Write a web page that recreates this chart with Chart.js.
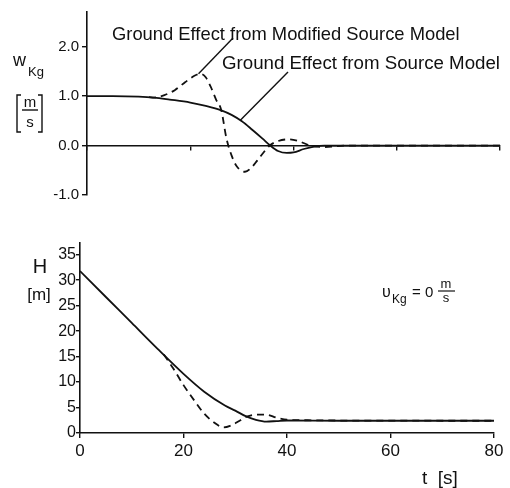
<!DOCTYPE html>
<html>
<head>
<meta charset="utf-8">
<script src="https://cdn.jsdelivr.net/npm/chart.js@4.4.1/dist/chart.umd.min.js"></script>
<style>
  html, body { margin: 0; padding: 0; background: #fff; }
  #wrap { position: relative; width: 510px; height: 488px; }
  #top-box { position: absolute; left: 0; top: 0; width: 510px; height: 215px; }
  #bot-box { position: absolute; left: 0; top: 215px; width: 510px; height: 273px; }
</style>
</head>
<body>
<div id="wrap">
  <div id="top-box"><canvas id="wkg-chart"></canvas></div>
  <div id="bot-box"><canvas id="height-chart"></canvas></div>
</div>
<script>
// w_Kg - vertical wind from ground effect [m/s]
var wTimeSrc = [0, 5, 10, 13, 16, 20, 23, 26, 28, 30, 32, 34, 35.5, 37, 38.7, 40, 42, 44, 46, 50, 60, 70, 80];
var wSrc     = [1.0, 1.0, 0.99, 0.97, 0.93, 0.87, 0.80, 0.71, 0.62, 0.49, 0.32, 0.14, 0, -0.11, -0.15, -0.14, -0.07, -0.02, 0, 0, 0, 0, 0];
var wTimeMod = [12, 13, 15, 17, 19, 21, 22, 23, 24, 25, 26, 27, 28, 29, 30.6, 32, 33, 35.4, 37, 39, 41, 43.2, 46, 50, 60, 70, 80];
var wMod     = [0.98, 0.97, 1.02, 1.12, 1.28, 1.42, 1.45, 1.38, 1.18, 0.93, 0.72, 0.15, -0.2, -0.42, -0.53, -0.43, -0.3, 0, 0.09, 0.125, 0.09, 0, -0.03, 0, 0, 0, 0];

// H - height [m]
var hTimeSrc = [0, 5, 10, 15, 20, 24, 28, 30, 32, 34, 36, 38, 40, 50, 60, 70, 80];
var hSrc     = [31.8, 26.7, 21.6, 16.5, 11.6, 8.1, 5.4, 4.4, 3.3, 2.6, 2.25, 2.35, 2.45, 2.4, 2.4, 2.4, 2.4];
var hTimeMod = [16.2, 18, 20, 22, 24, 26, 27.7, 29, 31, 32.2, 34, 36, 38, 40, 44, 50, 80];
var hMod     = [15.4, 12.7, 9.4, 6.5, 3.8, 2.0, 1.1, 1.4, 2.5, 3.2, 3.6, 3.6, 3.0, 2.6, 2.5, 2.45, 2.4];

// axis ticks
var tTicks = [0, 20, 40, 60, 80];
var wTicks = [-1, 0, 1, 2];
var hTicks = [0, 5, 10, 15, 20, 25, 30, 35];

var modLabel = 'Ground Effect from Modified Source Model';
var srcLabel = 'Ground Effect from Source Model';
var modPeak = [21.6, 1.45];   // where the leader lines touch the curves
var srcPoint = [29.7, 0.51];

var ink = '#111';
var font = '"Liberation Sans", Arial, sans-serif';

function toPoints(xs, ys) {
    return xs.map(function(x, i) { return { x: x, y: ys[i] }; });
}

function setTicks(list) {
    return function(scale) {
        scale.ticks = list.map(function(v) { return { value: v }; });
    };
}

function fitText(ctx, text, x, y, width, size) {
    ctx.font = size + 'px ' + font;
    var w = ctx.measureText(text).width;
    ctx.font = (size * width / w).toFixed(2) + 'px ' + font;
    ctx.fillText(text, x, y);
}

function seg(ctx, pts) {
    ctx.beginPath();
    ctx.moveTo(pts[0][0], pts[0][1]);
    for (var i = 1; i < pts.length; i++) ctx.lineTo(pts[i][0], pts[i][1]);
    ctx.stroke();
}

// labels and leader lines, upper plot
var topLabels = {
    id: 'topLabels',
    afterDraw: function(chart) {
        var ctx = chart.ctx;
        var xs = chart.scales.x, ys = chart.scales.y;
        ctx.save();
        ctx.fillStyle = ink;
        ctx.strokeStyle = ink;
        ctx.lineWidth = 1.4;
        ctx.textBaseline = 'alphabetic';
        ctx.textAlign = 'left';
        fitText(ctx, modLabel, 112, 40, 348, 15);
        fitText(ctx, srcLabel, 222, 69, 278, 15);
        seg(ctx, [[233, 38], [xs.getPixelForValue(modPeak[0]), ys.getPixelForValue(modPeak[1])]]);
        seg(ctx, [[288, 72], [xs.getPixelForValue(srcPoint[0]), ys.getPixelForValue(srcPoint[1])]]);

        // w_Kg [m/s]
        ctx.font = '18px ' + font;
        ctx.fillText('w', 13, 66);
        ctx.font = '13px ' + font;
        ctx.fillText('Kg', 28, 76);
        seg(ctx, [[21, 95], [17, 95], [17, 132], [21, 132]]);
        seg(ctx, [[38, 95], [42, 95], [42, 132], [38, 132]]);
        ctx.textAlign = 'center';
        ctx.font = '15px ' + font;
        ctx.fillText('m', 30, 107);
        seg(ctx, [[22, 110], [38, 110]]);
        ctx.fillText('s', 30, 127);
        ctx.restore();
    }
};

// labels, lower plot
var botLabels = {
    id: 'botLabels',
    afterDraw: function(chart) {
        var ctx = chart.ctx;
        ctx.save();
        ctx.fillStyle = ink;
        ctx.strokeStyle = ink;
        ctx.lineWidth = 1.2;
        ctx.textBaseline = 'alphabetic';
        ctx.textAlign = 'center';
        ctx.font = '20px ' + font;
        ctx.fillText('H', 40, 58);
        ctx.font = '17px ' + font;
        ctx.fillText('[m]', 39, 85);
        ctx.textAlign = 'left';
        ctx.font = '19px ' + font;
        ctx.fillText('t  [s]', 422, 269);

        ctx.font = '16px ' + font;
        ctx.fillText('\u03c5', 382, 82);
        ctx.font = '12px ' + font;
        ctx.fillText('Kg', 392, 88);
        ctx.font = '15px ' + font;
        ctx.fillText('= 0', 412, 82);
        ctx.textAlign = 'center';
        ctx.font = '13px ' + font;
        ctx.fillText('m', 446, 73);
        seg(ctx, [[438, 76], [455, 76]]);
        ctx.fillText('s', 446, 87);
        ctx.restore();
    }
};

var solid = { borderColor: ink, borderWidth: 1.8, pointRadius: 0, fill: false, cubicInterpolationMode: 'monotone' };
var dashed = { borderColor: ink, borderWidth: 1.8, pointRadius: 0, fill: false, cubicInterpolationMode: 'monotone', borderDash: [7, 5] };

// Upper chart: w_Kg
var wkgChart = new Chart(document.getElementById('wkg-chart'), {
    type: 'line',
    data: {
        datasets: [
            Object.assign({ label: srcLabel, data: toPoints(wTimeSrc, wSrc) }, solid),
            Object.assign({ label: modLabel, data: toPoints(wTimeMod, wMod) }, dashed)
        ]
    },
    options: {
        responsive: true,
        maintainAspectRatio: false,
        animation: false,
        layout: { padding: { left: 0, right: 10, top: 7, bottom: 20 } },
        plugins: { legend: { display: false }, tooltip: { enabled: false } },
        scales: {
            x: {
                type: 'linear',
                min: 0,
                max: 80,
                position: { y: 0 },
                afterBuildTicks: setTicks(tTicks),
                ticks: { display: false },
                grid: { drawOnChartArea: false, tickLength: 4, color: ink, lineWidth: 1.4 },
                border: { color: ink, width: 1.6 }
            },
            y: {
                type: 'linear',
                min: -1,
                max: 2.7,
                afterBuildTicks: setTicks(wTicks),
                afterFit: function(scale) { scale.width = 87; },
                ticks: {
                    color: ink,
                    padding: 3,
                    font: { family: font, size: 15 },
                    callback: function(v) { return v.toFixed(1); }
                },
                grid: { drawOnChartArea: false, tickLength: 5, color: ink, lineWidth: 1.4 },
                border: { color: ink, width: 1.6 }
            }
        }
    },
    plugins: [topLabels]
});

// Lower chart: H
var heightChart = new Chart(document.getElementById('height-chart'), {
    type: 'line',
    data: {
        datasets: [
            Object.assign({ label: 'Source Model', data: toPoints(hTimeSrc, hSrc) }, solid),
            Object.assign({ label: 'Modified Source Model', data: toPoints(hTimeMod, hMod) }, dashed)
        ]
    },
    options: {
        responsive: true,
        maintainAspectRatio: false,
        animation: false,
        layout: { padding: { left: 0, right: 16, top: 28, bottom: 0 } },
        plugins: { legend: { display: false }, tooltip: { enabled: false } },
        scales: {
            x: {
                type: 'linear',
                min: 0,
                max: 80,
                afterBuildTicks: setTicks(tTicks),
                afterFit: function(scale) { scale.height = 55; },
                ticks: { color: ink, padding: 3, maxRotation: 0, font: { family: font, size: 17 } },
                grid: { drawOnChartArea: false, tickLength: 5, color: ink, lineWidth: 1.4 },
                border: { color: ink, width: 1.6 }
            },
            y: {
                type: 'linear',
                min: 0,
                max: 37.3,
                afterBuildTicks: setTicks(hTicks),
                afterFit: function(scale) { scale.width = 80; },
                ticks: { color: ink, padding: 0, font: { family: font, size: 16 } },
                grid: { drawOnChartArea: false, tickLength: 4, color: ink, lineWidth: 1.4 },
                border: { color: ink, width: 1.6 }
            }
        }
    },
    plugins: [botLabels]
});
</script>
</body>
</html>
